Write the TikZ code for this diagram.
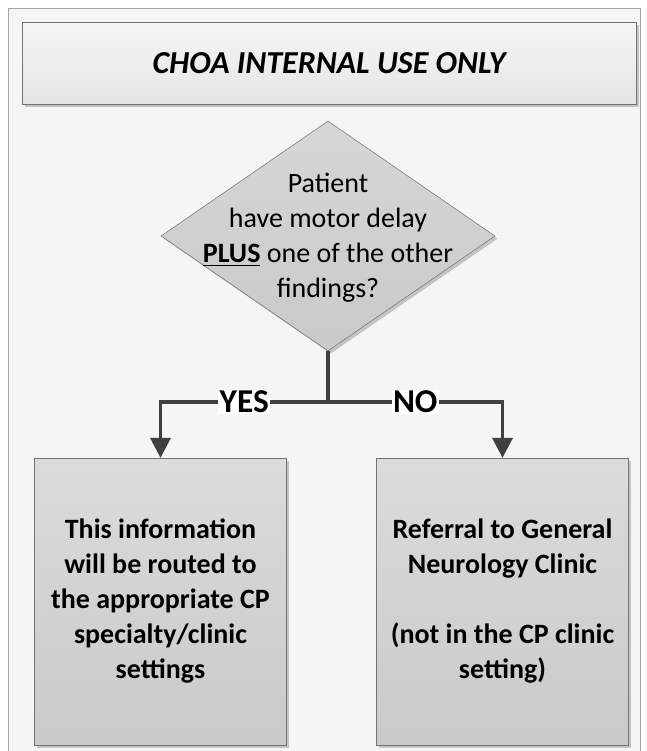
\documentclass[tikz,border=0pt]{standalone}
\usepackage{fontspec}
\setmainfont{Carlito}
\usetikzlibrary{shapes.geometric,arrows.meta,shadows}
\definecolor{framegray}{RGB}{165,165,165}
\definecolor{panelbg}{RGB}{245,245,245}
\definecolor{linegray}{RGB}{64,64,64}
\definecolor{edgegray}{RGB}{115,115,115}

\begin{document}
\begin{tikzpicture}[x=0.75pt, y=-0.75pt,
  every node/.style={font=\fontsize{21}{26.25}\selectfont, align=center},
  boxshadow/.style={drop shadow={shadow xshift=2pt, shadow yshift=-2pt, opacity=0.2, fill=black}},
  titlebox/.style={rectangle, draw=edgegray, top color=gray!8, bottom color=gray!20, minimum width=460.5pt, minimum height=61.5pt, boxshadow},
  decision/.style={diamond, draw=edgegray, top color=gray!32, bottom color=gray!42, minimum width=250.5pt, minimum height=172.5pt, inner sep=0pt, boxshadow},
  outcome/.style={rectangle, draw=edgegray, top color=gray!28, bottom color=gray!42, minimum width=189pt, minimum height=215pt, font=\fontsize{21}{26.25}\selectfont\bfseries, boxshadow},
  flow/.style={draw=linegray, line width=2.5pt},
  answer/.style={fill=white, inner sep=1pt, font=\fontsize{25}{28}\selectfont\bfseries}]
  \useasboundingbox (0,0) rectangle (647,751);
  % panel behind everything
  \fill[white] (0,0) rectangle (647,751);
  \draw[framegray, fill=panelbg] (8,8) rectangle (640,770);
  % title bar
  \node[titlebox, font=\fontsize{24}{28}\selectfont\bfseries\itshape] (title) at (329,63) {CHOA INTERNAL USE ONLY};
  % the question
  \node[decision] (question) at (328,236) {};
  \node (qtext) at (328,238) {Patient\\have motor delay\\\underline{\textbf{PLUS}} one of the other\\findings?};
  % the two outcomes
  \node[outcome] (routed) at (160.5,601.5) {This information\\will be routed to\\the appropriate CP\\specialty/clinic\\settings};
  \node[outcome] (referral) at (502.5,601.5) {Referral to General\\Neurology Clinic\\[26.25pt](not in the CP clinic\\setting)};
  % connectors
  \coordinate (split) at (328,402);
  \draw[flow] (question.south) -- (split);
  \draw[flow, -{Triangle[length=15pt, width=15pt]}] (split) -| node[answer, pos=0.25] {YES} (routed.north);
  \draw[flow, -{Triangle[length=15pt, width=15pt]}] (split) -| node[answer, pos=0.25] {NO} (referral.north);
\end{tikzpicture}
\end{document}
